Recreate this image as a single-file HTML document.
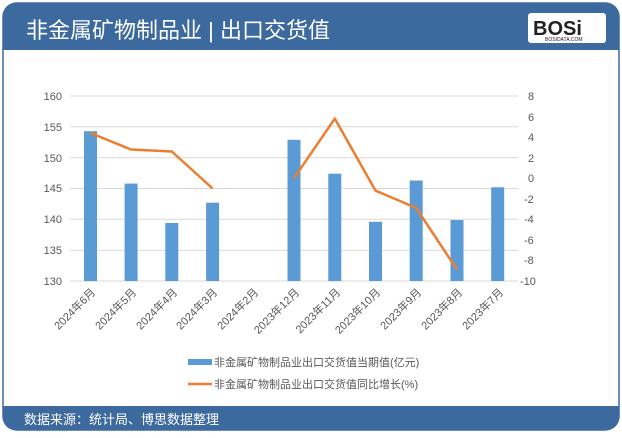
<!DOCTYPE html>
<html><head><meta charset="utf-8"><style>
body{margin:0;width:622px;height:433px;overflow:hidden;background:#fff;font-family:"Liberation Sans","Noto Sans CJK SC",sans-serif}
</style></head><body>
<svg width="622" height="433" xmlns="http://www.w3.org/2000/svg" font-family="Liberation Sans, Noto Sans CJK SC, sans-serif">
<rect x="3" y="3" width="616" height="427" rx="14" fill="#fff" stroke="#3d6a9e" stroke-width="1.5"/>
<path d="M3 50 V17 Q3 3 17 3 H605 Q619 3 619 17 V50 Z" fill="#3d6a9e"/>
<text x="26" y="38" font-size="22" fill="#fff">非金属矿物制品业 | 出口交货值</text>
<rect x="528" y="13" width="78" height="30" rx="3" fill="#fff"/>
<text x="533" y="35" font-size="20" font-weight="bold" fill="#222">BOSi</text>
<text x="545" y="41" font-size="5" fill="#222">BOSIDATA.COM</text>
<path d="M3 406 H619 V416 Q619 430 605 430 H17 Q3 430 3 416 Z" fill="#3d6a9e"/>
<text x="24" y="424" font-size="13" fill="#fff">数据来源：统计局、博思数据整理</text>
<g stroke="#d9d9d9" stroke-width="1">
<line x1="70" x2="518" y1="96" y2="96"/><line x1="70" x2="518" y1="126.8" y2="126.8"/>
<line x1="70" x2="518" y1="157.7" y2="157.7"/><line x1="70" x2="518" y1="188.5" y2="188.5"/>
<line x1="70" x2="518" y1="219.3" y2="219.3"/><line x1="70" x2="518" y1="250.2" y2="250.2"/>
<line x1="70" x2="518" y1="281" y2="281"/>
</g>
<g fill="#595959" font-size="11" text-anchor="end">
<text x="62" y="100">160</text><text x="62" y="131">155</text><text x="62" y="162">150</text>
<text x="62" y="192">145</text><text x="62" y="223">140</text><text x="62" y="254">135</text><text x="62" y="285">130</text>
</g>
<g fill="#595959" font-size="11" text-anchor="start">
<text x="528" y="100">8</text><text x="528" y="121">6</text><text x="528" y="141">4</text>
<text x="528" y="162">2</text><text x="528" y="182">0</text><text x="524" y="203">-2</text>
<text x="524" y="223">-4</text><text x="524" y="244">-6</text><text x="524" y="264">-8</text><text x="520" y="285">-10</text>
</g>
<g fill="#5b9bd5">
<rect x="84" y="131.2" width="13" height="149.8"/><rect x="124.6" y="183.6" width="13" height="97.4"/>
<rect x="165.3" y="223" width="13" height="58"/><rect x="206.1" y="202.7" width="13" height="78.3"/>
<rect x="287.5" y="139.8" width="13" height="141.2"/><rect x="328.3" y="173.7" width="13" height="107.3"/>
<rect x="369" y="221.8" width="13" height="59.2"/><rect x="409.7" y="180.5" width="13" height="100.5"/>
<rect x="450.5" y="220" width="13" height="61"/><rect x="491.2" y="187.3" width="13" height="93.7"/>
</g>
<g fill="none" stroke="#ed7d31" stroke-width="2.5" stroke-linejoin="round">
<polyline points="90.4,133 131.1,149.5 171.8,151.5 212.6,188.5"/>
<polyline points="294,178.2 334.8,118.6 375.5,190.6 416.2,208 457,269.7"/>
</g>
<g fill="#595959" font-size="11" text-anchor="end">
<text transform="translate(96,293) rotate(-45)">2024年6月</text>
<text transform="translate(137,293) rotate(-45)">2024年5月</text>
<text transform="translate(178,293) rotate(-45)">2024年4月</text>
<text transform="translate(218,293) rotate(-45)">2024年3月</text>
<text transform="translate(259,293) rotate(-45)">2024年2月</text>
<text transform="translate(300,293) rotate(-45)">2023年12月</text>
<text transform="translate(341,293) rotate(-45)">2023年11月</text>
<text transform="translate(381,293) rotate(-45)">2023年10月</text>
<text transform="translate(422,293) rotate(-45)">2023年9月</text>
<text transform="translate(463,293) rotate(-45)">2023年8月</text>
<text transform="translate(504,293) rotate(-45)">2023年7月</text>
</g>
<rect x="188" y="359" width="24" height="6" fill="#5b9bd5"/>
<text x="214" y="366" font-size="11" fill="#595959">非金属矿物制品业出口交货值当期值(亿元)</text>
<line x1="188" x2="212" y1="384" y2="384" stroke="#ed7d31" stroke-width="2.5"/>
<text x="214" y="388" font-size="11" fill="#595959">非金属矿物制品业出口交货值同比增长(%)</text>
</svg>
</body></html>
